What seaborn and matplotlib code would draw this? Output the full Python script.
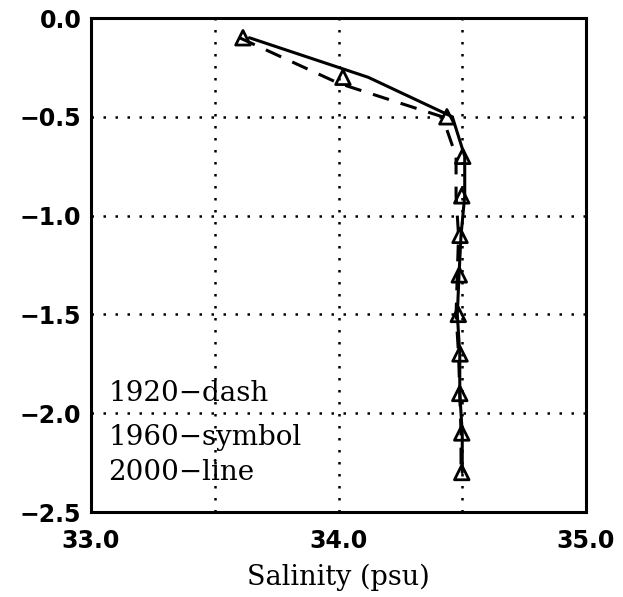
import matplotlib
matplotlib.use("Agg")
import matplotlib.pyplot as plt
import seaborn as sns
import pandas as pd

# Data
depth = [-0.1, -0.3, -0.5, -0.7, -0.9, -1.1, -1.3, -1.5, -1.7, -1.9, -2.1, -2.3]
depth_1920 = [-0.1, -0.33, -0.5, -0.7, -0.9, -1.1, -1.3, -1.5, -1.7, -1.9, -2.1, -2.3]
sal_1920 = [33.60, 34.00, 34.42, 34.475, 34.475, 34.485, 34.48, 34.475, 34.485, 34.49, 34.495, 34.495]
sal_1960 = [33.614, 34.018, 34.438, 34.502, 34.498, 34.491, 34.488, 34.484, 34.491, 34.49, 34.498, 34.498]
sal_2000 = [33.64, 34.12, 34.46, 34.51, 34.51, 34.495, 34.487, 34.48, 34.49, 34.49, 34.50, 34.50]
legend_labels = ["1920\u2212dash", "1960\u2212symbol", "2000\u2212line"]
xtick_labels = ["33.0", "", "34.0", "", "35.0"]
ytick_labels = ["0.0", "\u22120.5", "\u22121.0", "\u22121.5", "\u22122.0", "\u22122.5"]
xticks = [33.0, 33.5, 34.0, 34.5, 35.0]
yticks = [0.0, -0.5, -1.0, -1.5, -2.0, -2.5]

df1920 = pd.DataFrame({"sal": sal_1920, "depth": depth_1920})
df1960 = pd.DataFrame({"sal": sal_1960, "depth": depth})
df2000 = pd.DataFrame({"sal": sal_2000, "depth": depth})

sns.set_style("white")
plt.rcParams['font.family'] = ['DejaVu Sans']
plt.rcParams['text.color'] = 'black'
plt.rcParams['xtick.color'] = 'black'
plt.rcParams['ytick.color'] = 'black'
plt.rcParams['axes.labelcolor'] = 'black'

fig = plt.figure(figsize=(6.23, 5.97), dpi=100)
ax = fig.add_axes([91/623, 1 - 512/597, (586-91)/623, (512-18)/597])

sns.lineplot(data=df1920, x="sal", y="depth", sort=False, estimator=None,
             color="black", lw=2.2, ax=ax)
ax.lines[-1].set_dashes([5.5, 4])
sns.lineplot(data=df2000, x="sal", y="depth", sort=False, estimator=None,
             color="black", lw=2.2, ax=ax)
sns.scatterplot(data=df1960, x="sal", y="depth", marker="^", s=110,
                facecolor="none", edgecolor="black", linewidth=2, ax=ax, zorder=5)

ax.set_xlim(33.0, 35.0)
ax.set_ylim(-2.5, 0.0)
ax.set_xticks(xticks)
ax.set_xticklabels(xtick_labels)
ax.set_yticks(yticks)
ax.set_yticklabels(ytick_labels)

ax.grid(True, color="black", linestyle=(0, (1, 3.8)), linewidth=1.8)
for s in ax.spines.values():
    s.set_linewidth(2.2)
    s.set_color("black")
ax.tick_params(axis="both", direction="in", length=9, width=2, color="black",
               labelsize=17, labelcolor="black")
ax.tick_params(axis="y", pad=7)
ax.tick_params(axis="x", pad=12)
for lab in ax.get_xticklabels() + ax.get_yticklabels():
    lab.set_fontfamily("DejaVu Sans")
    lab.set_fontweight("bold")

ax.set_xlabel("Salinity (psu)", fontsize=19.5, family="DejaVu Serif",
              labelpad=8, color="black")
ax.set_ylabel("")

ypos = [-1.90, -2.125, -2.30]
for lab, yy in zip(legend_labels, ypos):
    ax.text(33.07, yy, lab, fontsize=20, family="DejaVu Serif",
            va="center", ha="left", color="black")

fig.savefig("out.png", dpi=100)
